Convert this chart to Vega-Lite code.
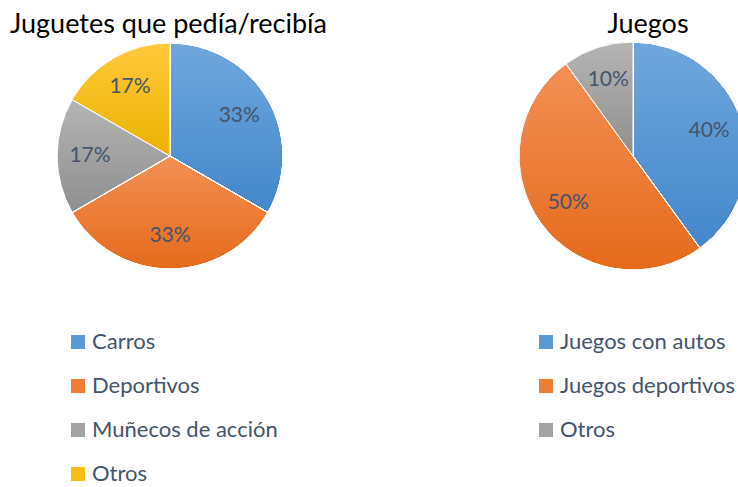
{
  "$schema": "https://vega.github.io/schema/vega-lite/v6.json",
  "padding": {"top": 11, "left": 0, "right": 0, "bottom": 0},
  "spacing": 123,
  "background": "#FFFFFF",
  "config": {
    "view": {"stroke": null},
    "font": "Lato",
    "title": {"font": "Lato", "fontSize": 27, "fontWeight": "normal", "color": "#000000"}
  },
  "resolve": {"scale": {"color": "independent", "theta": "independent"}, "legend": {"color": "independent"}},
  "hconcat": [
    {
      "width": 340,
      "height": 232,
      "title": {"text": "Juguetes que pedía/recibía", "anchor": "start", "dx": 10, "offset": 1},
      "data": {"values": [
        {"juguete": "Carros", "p": 0.3333},
        {"juguete": "Deportivos", "p": 0.3333},
        {"juguete": "Muñecos de acción", "p": 0.1667},
        {"juguete": "Otros", "p": 0.1667}
      ]},
      "encoding": {
        "theta": {"field": "p", "type": "quantitative", "stack": true},
        "order": {"field": "juguete", "type": "nominal", "sort": "ascending"}
      },
      "layer": [
        {
          "mark": {"type": "arc", "radius": 113},
          "encoding": {
            "color": {
              "field": "juguete", "type": "nominal",
              "scale": {
                "domain": ["Carros", "Deportivos", "Muñecos de acción", "Otros"],
                "range": ["#5A99D6", "#EE7E36", "#A3A3A3", "#F9BE14"]
              },
              "legend": {
                "orient": "none", "legendX": 67, "legendY": 291, "title": null,
                "symbolType": "square", "symbolSize": 196, "symbolStrokeWidth": 0,
                "labelFont": "Lato", "labelFontSize": 22, "labelColor": "#44546A",
                "labelLimit": 400,
                "rowPadding": 22, "labelOffset": 3, "padding": 0
              }
            }
          }
        },
        {
          "mark": {"type": "arc", "radius": 113, "stroke": "#FFFFFF", "strokeWidth": 1,
            "fill": {"gradient": "linear", "x1": 0, "y1": 0, "x2": 0, "y2": 1, "stops": [{"offset": 0, "color": "#6FA7DD"}, {"offset": 1, "color": "#4287CB"}]}},
          "encoding": {
            "detail": {"field": "juguete", "type": "nominal"},
            "fillOpacity": {"condition": {"test": "datum.juguete === 'Carros'", "value": 1}, "value": 0}
          }
        },
        {
          "mark": {"type": "arc", "radius": 113, "stroke": "#FFFFFF", "strokeWidth": 1,
            "fill": {"gradient": "linear", "x1": 0, "y1": 0, "x2": 0, "y2": 1, "stops": [{"offset": 0, "color": "#F39054"}, {"offset": 1, "color": "#E56A1B"}]}},
          "encoding": {
            "detail": {"field": "juguete", "type": "nominal"},
            "fillOpacity": {"condition": {"test": "datum.juguete === 'Deportivos'", "value": 1}, "value": 0}
          }
        },
        {
          "mark": {"type": "arc", "radius": 113, "stroke": "#FFFFFF", "strokeWidth": 1,
            "fill": {"gradient": "linear", "x1": 0, "y1": 0, "x2": 0, "y2": 1, "stops": [{"offset": 0, "color": "#B5B5B5"}, {"offset": 1, "color": "#8E8E8E"}]}},
          "encoding": {
            "detail": {"field": "juguete", "type": "nominal"},
            "fillOpacity": {"condition": {"test": "datum.juguete === 'Muñecos de acción'", "value": 1}, "value": 0}
          }
        },
        {
          "mark": {"type": "arc", "radius": 113, "stroke": "#FFFFFF", "strokeWidth": 1,
            "fill": {"gradient": "linear", "x1": 0, "y1": 0, "x2": 0, "y2": 1, "stops": [{"offset": 0, "color": "#FFC93A"}, {"offset": 1, "color": "#EBB200"}]}},
          "encoding": {
            "detail": {"field": "juguete", "type": "nominal"},
            "fillOpacity": {"condition": {"test": "datum.juguete === 'Otros'", "value": 1}, "value": 0}
          }
        },
        {
          "mark": {"type": "text", "radius": 80, "fontSize": 21, "fill": "#44546A", "font": "Lato"},
          "encoding": {
            "detail": {"field": "juguete", "type": "nominal"},
            "text": {"field": "p", "type": "quantitative", "format": ".0%"}
          }
        }
      ]
    },
    {
      "width": 340,
      "height": 232,
      "title": {"text": "Juegos", "anchor": "middle", "dx": 15, "offset": 1},
      "data": {"values": [
        {"juego": "Juegos con autos", "p": 0.4},
        {"juego": "Juegos deportivos", "p": 0.5},
        {"juego": "Otros", "p": 0.1}
      ]},
      "encoding": {
        "theta": {"field": "p", "type": "quantitative", "stack": true},
        "order": {"field": "juego", "type": "nominal", "sort": "ascending"}
      },
      "layer": [
        {
          "mark": {"type": "arc", "radius": 114},
          "encoding": {
            "color": {
              "field": "juego", "type": "nominal",
              "scale": {
                "domain": ["Juegos con autos", "Juegos deportivos", "Otros"],
                "range": ["#5A99D6", "#EE7E36", "#A3A3A3"]
              },
              "legend": {
                "orient": "none", "legendX": 72, "legendY": 291, "title": null,
                "symbolType": "square", "symbolSize": 196, "symbolStrokeWidth": 0,
                "labelFont": "Lato", "labelFontSize": 22, "labelColor": "#44546A",
                "labelLimit": 400,
                "rowPadding": 22, "labelOffset": 3, "padding": 0
              }
            }
          }
        },
        {
          "mark": {"type": "arc", "radius": 114, "stroke": "#FFFFFF", "strokeWidth": 1,
            "fill": {"gradient": "linear", "x1": 0, "y1": 0, "x2": 0, "y2": 1, "stops": [{"offset": 0, "color": "#6FA7DD"}, {"offset": 1, "color": "#4287CB"}]}},
          "encoding": {
            "detail": {"field": "juego", "type": "nominal"},
            "fillOpacity": {"condition": {"test": "datum.juego === 'Juegos con autos'", "value": 1}, "value": 0}
          }
        },
        {
          "mark": {"type": "arc", "radius": 114, "stroke": "#FFFFFF", "strokeWidth": 1,
            "fill": {"gradient": "linear", "x1": 0, "y1": 0, "x2": 0, "y2": 1, "stops": [{"offset": 0, "color": "#F39054"}, {"offset": 1, "color": "#E56A1B"}]}},
          "encoding": {
            "detail": {"field": "juego", "type": "nominal"},
            "fillOpacity": {"condition": {"test": "datum.juego === 'Juegos deportivos'", "value": 1}, "value": 0}
          }
        },
        {
          "mark": {"type": "arc", "radius": 114, "stroke": "#FFFFFF", "strokeWidth": 1,
            "fill": {"gradient": "linear", "x1": 0, "y1": 0, "x2": 0, "y2": 1, "stops": [{"offset": 0, "color": "#B5B5B5"}, {"offset": 1, "color": "#8E8E8E"}]}},
          "encoding": {
            "detail": {"field": "juego", "type": "nominal"},
            "fillOpacity": {"condition": {"test": "datum.juego === 'Otros'", "value": 1}, "value": 0}
          }
        },
        {
          "mark": {"type": "text", "radius": 80, "fontSize": 21, "fill": "#44546A", "font": "Lato"},
          "encoding": {
            "detail": {"field": "juego", "type": "nominal"},
            "text": {"field": "p", "type": "quantitative", "format": ".0%"}
          }
        }
      ]
    }
  ]
}
